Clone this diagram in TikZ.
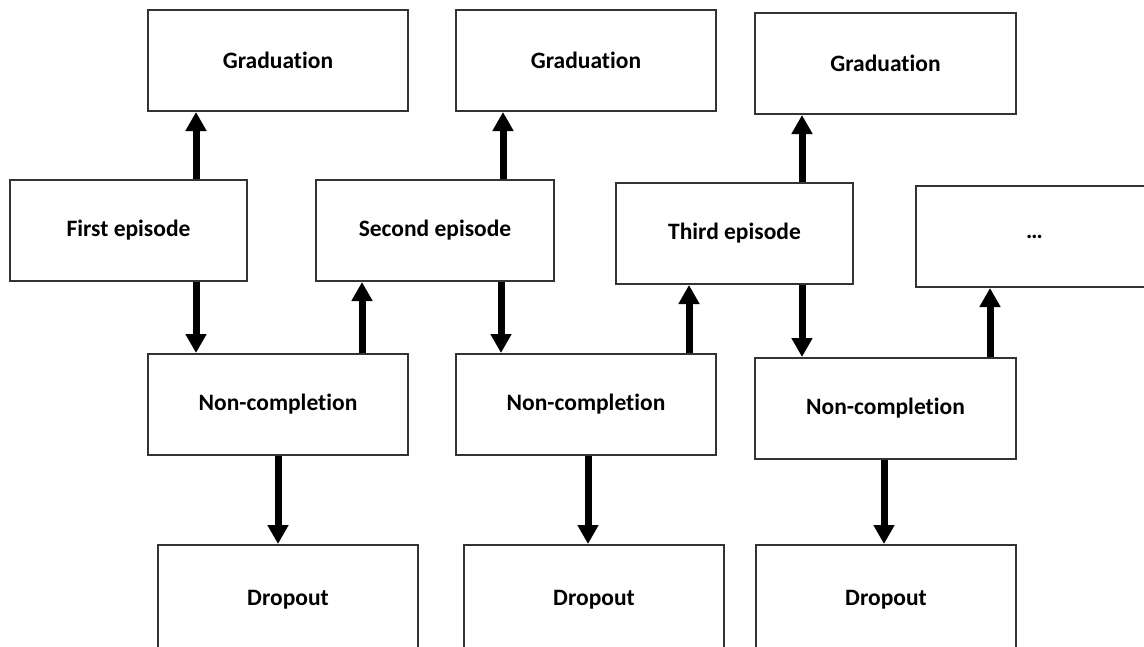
\documentclass[tikz,border=0pt]{standalone}
\usepackage{fontspec}
\setmainfont{Carlito}[Ligatures=NoCommon]
\usetikzlibrary{arrows.meta}
\tikzset{
  box/.style={draw=black!80, line width=2pt, rectangle, inner sep=0pt,
    minimum width=260pt, minimum height=101pt,
    font=\fontsize{23.5}{28}\selectfont\bfseries},
  epbox/.style={box, minimum width=237pt},
  dropbox/.style={box, minimum height=110pt},
  arr/.style={line width=7pt, -{Triangle[width=20pt,length=19pt]}}
}
\begin{document}
\begin{tikzpicture}[x=1pt,y=-1pt]
\useasboundingbox (0,0) rectangle (1144,646);
% top row
\node[box] (g1) at (278,60.5) {Graduation};
\node[box] (g2) at (586,60.5) {Graduation};
\node[box, minimum width=261pt] (g3) at (885.5,63.5) {Graduation};
% episodes
\node[epbox] (fe) at (128.5,230.5) {First episode};
\node[epbox, minimum width=238pt] (se) at (435,230.5) {Second episode};
\node[epbox] (te) at (734.5,233.5) {Third episode};
\node[epbox] (dots) at (1034.5,236.5) {…};
% non-completion
\node[box] (nc1) at (278,404.5) {Non-completion};
\node[box] (nc2) at (586,404.5) {Non-completion};
\node[box, minimum width=261pt] (nc3) at (885.5,408.5) {Non-completion};
% dropout
\node[dropbox] (d1) at (288,600) {Dropout};
\node[dropbox] (d2) at (594,600) {Dropout};
\node[dropbox] (d3) at (886,600) {Dropout};
% arrows
\draw[arr] (fe.north -| 196,0) -- (g1.south -| 196,0);
\draw[arr] (fe.south -| 196,0) -- (nc1.north -| 196,0);
\draw[arr] (nc1.north -| 362,0) -- (se.south -| 362,0);
\draw[arr] (se.north -| 503,0) -- (g2.south -| 503,0);
\draw[arr] (se.south -| 501,0) -- (nc2.north -| 501,0);
\draw[arr] (nc2.north -| 689,0) -- (te.south -| 689,0);
\draw[arr] (te.north -| 802,0) -- (g3.south -| 802,0);
\draw[arr] (te.south -| 802,0) -- (nc3.north -| 802,0);
\draw[arr] (nc3.north -| 990,0) -- (dots.south -| 990,0);
\draw[arr] (nc1.south -| 278,0) -- (d1.north -| 278,0);
\draw[arr] (nc2.south -| 588,0) -- (d2.north -| 588,0);
\draw[arr] (nc3.south -| 884,0) -- (d3.north -| 884,0);
\end{tikzpicture}
\end{document}
